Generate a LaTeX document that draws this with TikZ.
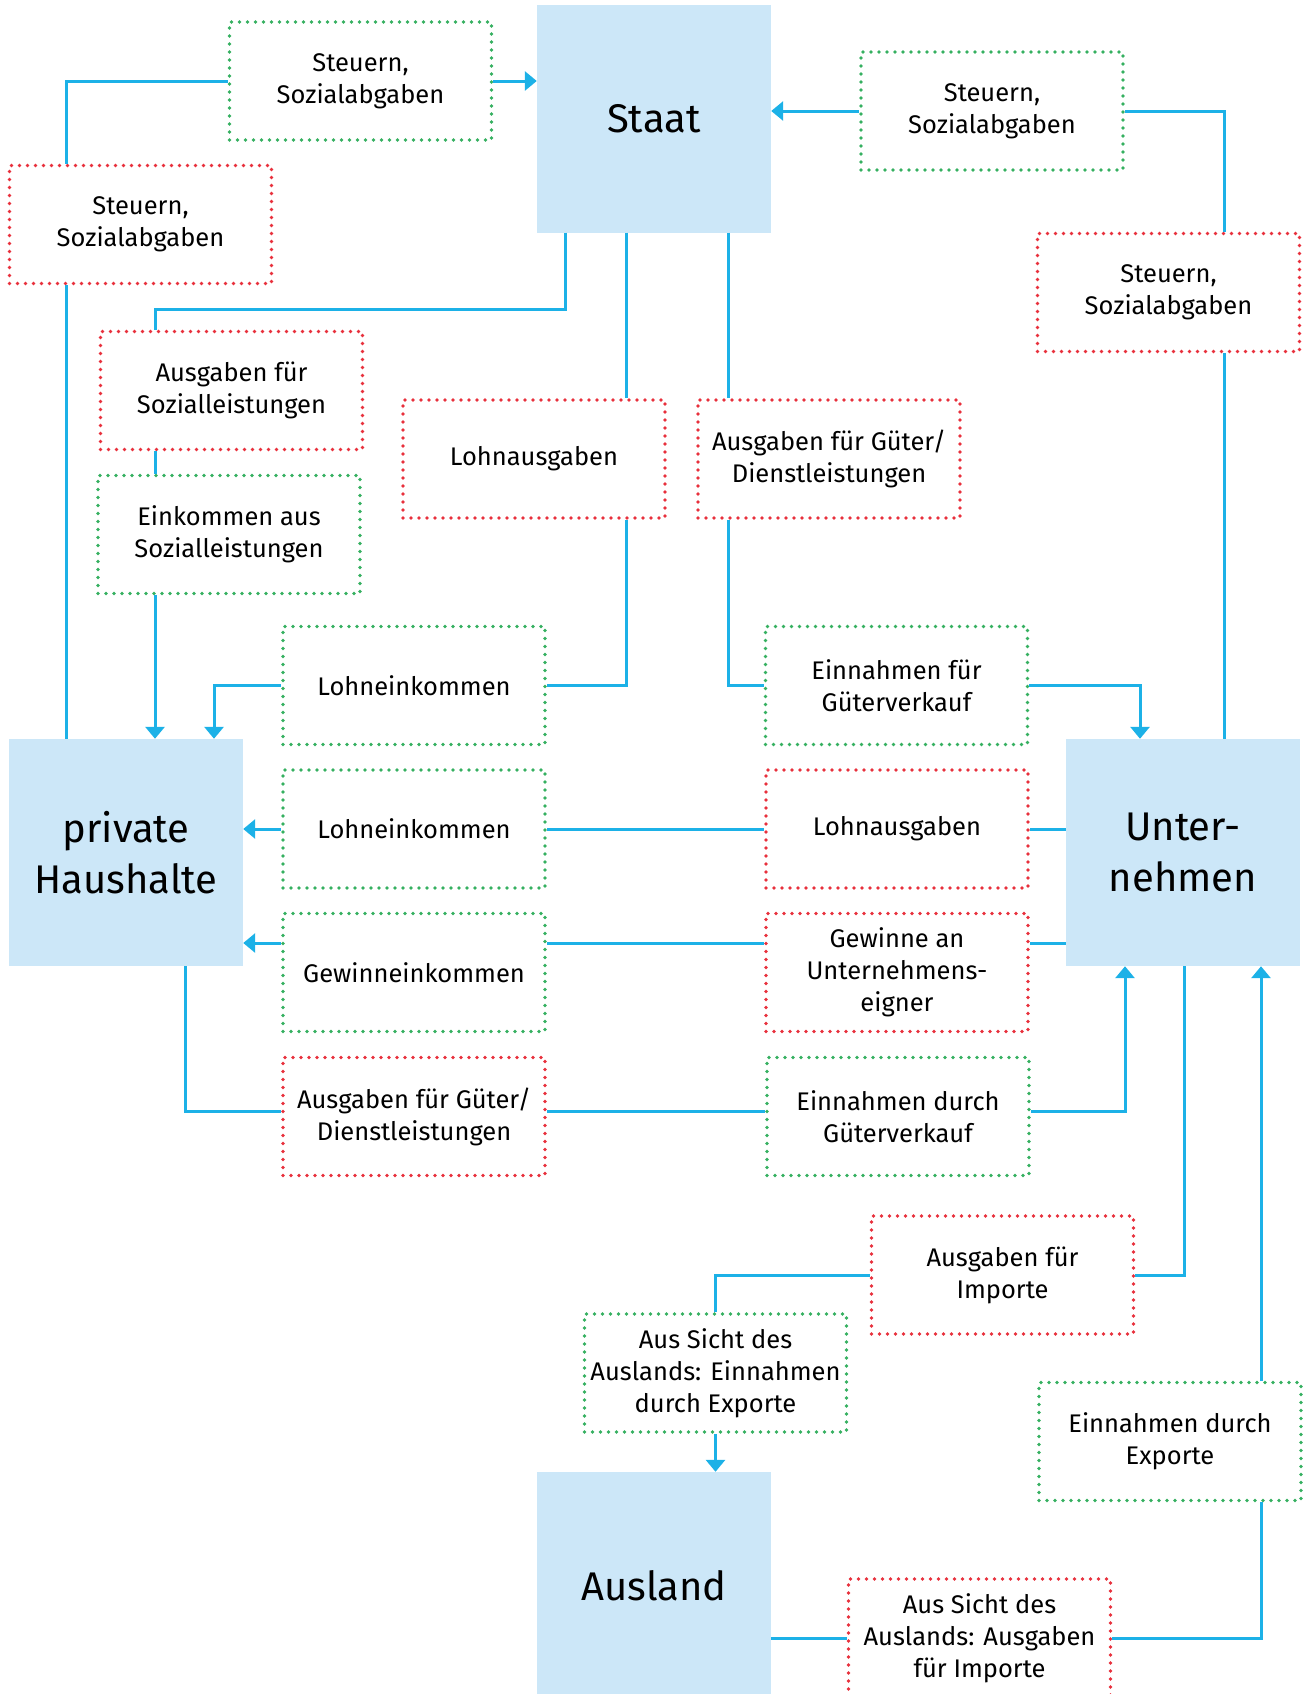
\documentclass[tikz,border=0pt]{standalone}
\usepackage{fontspec}
\setmainfont{Fira Sans}
\usetikzlibrary{arrows.meta,calc}

\definecolor{boxblue}{HTML}{CCE7F8}
\definecolor{flowblue}{HTML}{1CB1E7}
\definecolor{ingreen}{HTML}{35B060}
\definecolor{outred}{HTML}{E8303C}

\tikzset{
  sector/.style={fill=boxblue, minimum width=234pt, minimum height=227pt,
    inner sep=0pt, align=center, font=\fontsize{40}{51}\selectfont},
  flowbox/.style={minimum width=262pt, minimum height=118pt, inner sep=0pt,
    align=center, font=\fontsize{25.5}{32}\selectfont, line width=3.9pt,
    dash pattern=on 0pt off 8pt, line cap=round, fill=white},
  income/.style={flowbox, draw=ingreen},
  expense/.style={flowbox, draw=outred},
  flow/.style={draw=flowblue, line width=3pt},
  tip/.style={flow, -{Triangle[length=12pt,width=19pt]}},
}

\begin{document}
\begin{tikzpicture}[x=1pt,y=-1pt]
\useasboundingbox (0,0) rectangle (1304,1694);
\begin{scope}
\clip (0,0) rectangle (1304,1694);

% sectors
\node[sector] (staat)   at (654,119)    {Staat};
\node[sector] (ph)      at (126,852.5)  {private\\Haushalte};
\node[sector] (un)      at (1183,852.5) {Unter-\\nehmen};
\node[sector] (ausland) at (654,1585.5) {Ausland};

% flows
\node[income]  (b1)  at (360.5,81)   {Steuern,\\Sozialabgaben};
\node[expense] (b2)  at (140.5,224.5){Steuern,\\Sozialabgaben};
\node[income]  (b3)  at (992,111)    {Steuern,\\Sozialabgaben};
\node[expense] (b4)  at (1168.5,292.5){Steuern,\\Sozialabgaben};
\node[expense] (b5)  at (231.5,390.5){Ausgaben für\\Sozialleistungen};
\node[income]  (b6)  at (229,534.5)  {Einkommen aus\\Sozialleistungen};
\node[expense] (b7)  at (534,459)    {Lohnausgaben};
\node[expense] (b8)  at (829,459)    {Ausgaben für Güter/\\Dienstleistungen};
\node[income]  (b9)  at (414,685.5)  {Lohneinkommen};
\node[income]  (b10) at (896.5,685.5){Einnahmen für\\Güterverkauf};
\node[income]  (b11) at (414,829)    {Lohneinkommen};
\node[expense] (b12) at (897,829)    {Lohnausgaben};
\node[income]  (b13) at (414,972.5)  {Gewinneinkommen};
\node[expense] (b14) at (897,972.5)  {Gewinne an\\Unternehmens-\\eigner};
\node[expense] (b15) at (414,1116.5) {Ausgaben für Güter/\\Dienstleistungen};
\node[income]  (b16) at (898,1116.5) {Einnahmen durch\\Güterverkauf};
\node[expense] (b17) at (1002.5,1275){Ausgaben für\\Importe};
\node[income]  (b18) at (715.5,1373) {Aus Sicht des\\Auslands: Einnahmen\\durch Exporte};
\node[income]  (b19) at (1170,1441.5){Einnahmen durch\\Exporte};
\node[expense] (b20) at (979.5,1638) {Aus Sicht des\\Auslands: Ausgaben\\für Importe};

% lanes of the connectors
\coordinate (kL)   at (66,0);
\coordinate (jSoc) at (155,309);
\coordinate (kP2)  at (214,0);
\coordinate (kPb)  at (185,0);
\coordinate (kS1)  at (565,0);
\coordinate (kS2)  at (626,0);
\coordinate (kS3)  at (728,0);
\coordinate (kU1)  at (1140,0);
\coordinate (kUb1) at (1125,0);
\coordinate (kUb2) at (1184,0);
\coordinate (kR)   at (1224,0);
\coordinate (kUb3) at (1261,0);
\coordinate (yG)   at (0,943);
\coordinate (yA)   at (0,1111);

% taxes to the state
\path[flow] (ph.north -| kL) -- (b2.south -| kL);
\path[flow] (b2.north -| kL) |- (b1.west);
\path[tip]  (b1.east) -- (b1.east -| staat.west);
\path[tip]  (b3.west) -- (b3.west -| staat.east);
\path[flow] (b3.east) -| (b4.north -| kR);
\path[flow] (b4.south -| kR) -- (un.north -| kR);

% social transfers
\path[flow] (staat.south -| kS1) |- (jSoc) -- (b5.north -| jSoc);
\path[flow] (b5.south -| jSoc) -- (b6.north -| jSoc);
\path[tip]  (b6.south -| jSoc) -- (ph.north -| jSoc);

% state wages
\path[flow] (staat.south -| kS2) -- (b7.north -| kS2);
\path[flow] (b7.south -| kS2) |- (b9.east);
\path[tip]  (b9.west) -| (ph.north -| kP2);

% state purchases
\path[flow] (staat.south -| kS3) -- (b8.north -| kS3);
\path[flow] (b8.south -| kS3) |- (b10.west);
\path[tip]  (b10.east) -| (un.north -| kU1);

% wages from firms
\path[flow] (b12.east -| un.west) -- (b12.east);
\path[flow] (b12.west) -- (b11.east);
\path[tip]  (b11.west) -- (b11.west -| ph.east);

% profits
\path[flow] (un.west |- yG) -- (b14.east |- yG);
\path[flow] (b14.west |- yG) -- (b13.east |- yG);
\path[tip]  (b13.west |- yG) -- (ph.east |- yG);

% consumption
\path[flow] (ph.south -| kPb) |- (b15.west |- yA);
\path[flow] (b15.east |- yA) -- (b16.west |- yA);
\path[tip]  (b16.east |- yA) -| (un.south -| kUb1);

% imports
\path[flow] (un.south -| kUb2) |- (b17.east);
\path[flow] (b17.west) -| (b18.north);
\path[tip]  (b18.south) -- (b18.south |- ausland.north);

% exports
\path[tip]  (b19.north -| kUb3) -- (un.south -| kUb3);
\path[flow] (b19.south -| kUb3) |- (b20.east);
\path[flow] (b20.west) -- (b20.west -| ausland.east);
\end{scope}
\end{tikzpicture}
\end{document}
